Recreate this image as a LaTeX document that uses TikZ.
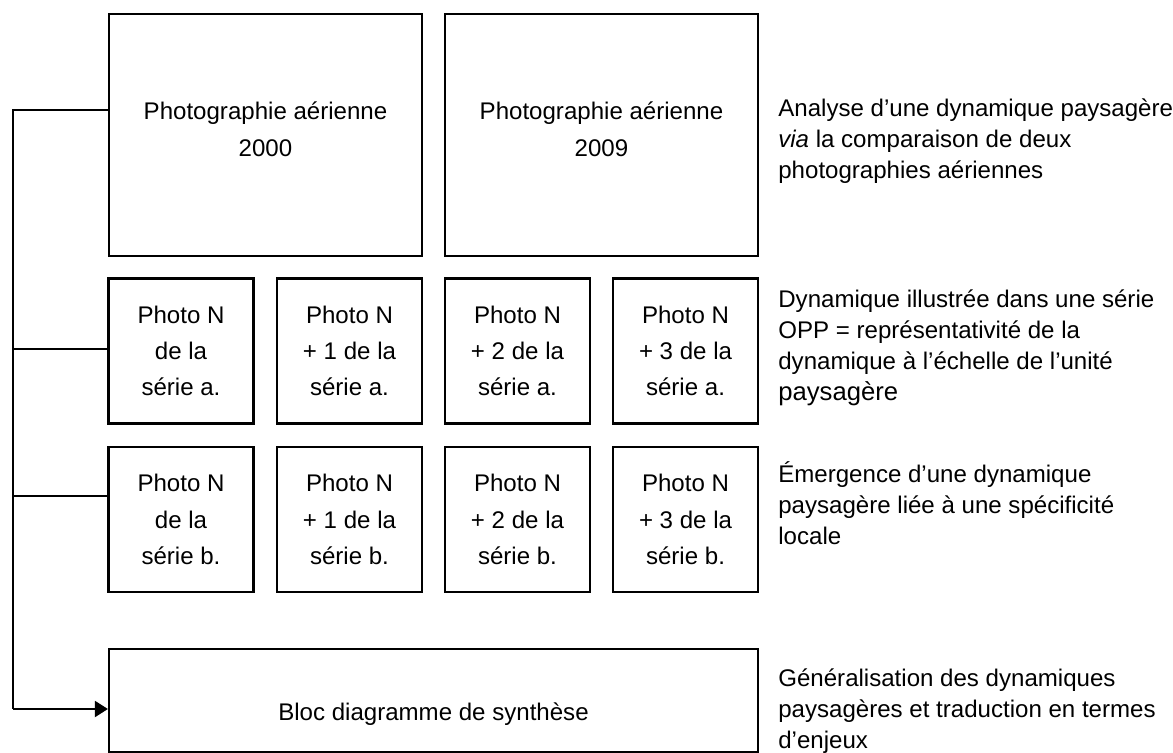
\documentclass[tikz,border=0pt]{standalone}
\usepackage{fontspec}
\setmainfont{Liberation Sans}
\usetikzlibrary{arrows.meta,positioning}

\begin{document}
\begin{tikzpicture}[
  x=0.02cm, y=-0.02cm,
  photobox/.style={rectangle, draw=black, line width=1.3pt, minimum width=2.9cm, minimum height=2.9cm, align=center, inner sep=0pt, font=\fontsize{13.7}{20.7}\selectfont},
  aerialbox/.style={photobox, minimum width=6.26cm, minimum height=4.84cm, text depth=0.24cm},
  synthbox/.style={photobox, minimum width=12.98cm, minimum height=2.06cm, text height=0.9cm},
  note/.style={anchor=west, align=left, inner sep=0pt, font=\fontsize{13.7}{17.6}\selectfont},
  wire/.style={line width=1.1pt},
]
\useasboundingbox (0,0) rectangle (1173,753);

% aerial photographs
\node[aerialbox] (p2000) at (265.5,135) {Photographie aérienne\\2000};
\node[aerialbox] (p2009) at (601.5,135) {Photographie aérienne\\2009};

% OPP series a and b
\foreach \k/\x in {0/181,1/349.5,2/517.5,3/685.5}{
  \node[photobox] (a\k) at (\x,351) {Photo N\\\ifnum\k=0 de la\else + \k{} de la\fi\\série a.};
  \node[photobox] (b\k) at (\x,519.5) {Photo N\\\ifnum\k=0 de la\else + \k{} de la\fi\\série b.};
}

\node[synthbox] (synth) at (433.5,700.5) {Bloc diagramme de synthèse};

% notes on the right
\node[note] (n1) at (778,141) {Analyse d’une dynamique paysagère\\\textit{via} la comparaison de deux\\photographies aériennes};
\node[note] (n2) at (778,347.5) {Dynamique illustrée dans une série\\OPP = représentativité de la\\dynamique à l’échelle de l’unité\\{\fontsize{14.6}{17.6}\selectfont paysagère}};
\node[note] (n3) at (778,503) {Émergence d’une dynamique\\paysagère liée à une spécificité\\locale};
\node[note] (n4) at (778,711) {Généralisation des dynamiques\\paysagères et traduction en termes\\d’enjeux};

% collecting line
\coordinate (jtop) at (12.7,110);
\coordinate (ja) at (12.7,349);
\coordinate (jb) at (12.7,496);
\coordinate (jend) at (12.7,709);
\draw[wire] (jtop -| p2000.west) -- (jtop) -- (jend);
\draw[wire] (ja) -- (ja -| a0.west);
\draw[wire] (jb) -- (jb -| b0.west);
\draw[wire,-{Triangle[length=0.26cm,width=0.32cm]}] (jend) -- (jend -| synth.west);
\end{tikzpicture}
\end{document}
